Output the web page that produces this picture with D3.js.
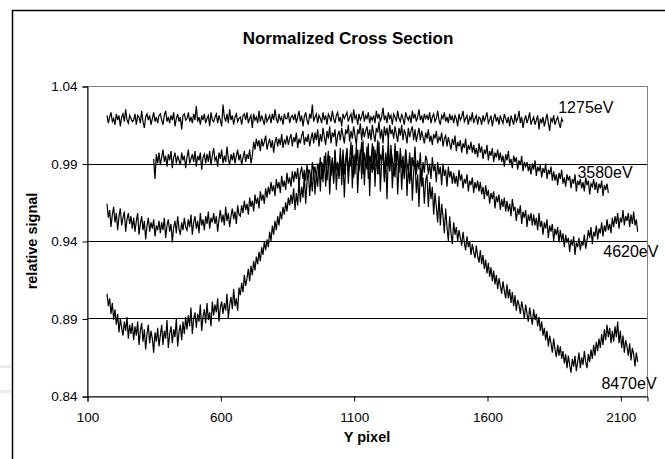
<!DOCTYPE html>
<html>
<head>
<meta charset="utf-8">
<script src="https://cdn.jsdelivr.net/npm/d3@7/dist/d3.min.js"></script>
<style>
  html, body { margin: 0; padding: 0; background: #fff; }
  svg { display: block; }
  text { font-family: "Liberation Sans", Arial, Helvetica, sans-serif; fill: #000; }
</style>
</head>
<body>
<div id="chart"></div>
<script>
// ---------------- DATA ----------------
const chartTitle = "Normalized Cross Section";
const xAxisTitle = "Y pixel";
const yAxisTitle = "relative signal";
const xTicks = [100, 600, 1100, 1600, 2100];
const yTicks = [0.84, 0.89, 0.94, 0.99, 1.04];
const seriesNames = ["1275eV", "3580eV", "4620eV", "8470eV"];
const seriesStartX = [175, 350, 175, 175];   // first Y pixel of each trace
const sampleStep = 5;                       // Y pixel spacing of samples

const v1275 = [
1.021,1.016,1.020,1.023,1.017,1.019,1.015,1.022,1.018,1.021,1.014,1.020,1.022,1.017,1.025,1.018,1.016,1.021,1.019,1.017,
1.018,1.022,1.015,1.021,1.020,1.016,1.024,1.017,1.013,1.020,1.022,1.018,1.021,1.015,1.019,1.023,1.017,1.020,1.016,1.021,
1.022,1.018,1.015,1.021,1.024,1.017,1.020,1.016,1.021,1.018,1.023,1.014,1.019,1.022,1.017,1.020,1.012,1.021,1.022,1.018,
1.019,1.023,1.017,1.020,1.016,1.022,1.018,1.027,1.017,1.020,1.015,1.021,1.018,1.022,1.016,1.019,1.021,1.014,1.023,1.018,
1.017,1.020,1.022,1.016,1.021,1.018,1.014,1.028,1.020,1.017,1.022,1.016,1.025,1.018,1.021,1.015,1.020,1.022,1.017,1.019,
1.020,1.015,1.021,1.022,1.018,1.023,1.016,1.019,1.021,1.013,1.022,1.018,1.020,1.016,1.024,1.017,1.021,1.018,1.015,1.022,
1.017,1.019,1.021,1.016,1.022,1.018,1.025,1.019,1.016,1.022,1.018,1.020,1.015,1.022,1.019,1.019,1.023,1.016,1.020,1.021,
1.018,1.022,1.016,1.020,1.024,1.017,1.021,1.014,1.020,1.023,1.018,1.015,1.022,1.019,1.028,1.017,1.020,1.022,1.016,1.021,
1.019,1.016,1.023,1.018,1.021,1.015,1.022,1.020,1.017,1.024,1.019,1.016,1.021,1.023,1.017,1.020,1.014,1.022,1.019,1.021,
1.023,1.017,1.020,1.022,1.016,1.025,1.019,1.021,1.015,1.022,1.018,1.020,1.024,1.017,1.021,1.019,1.023,1.016,1.020,1.018,
1.021,1.016,1.024,1.019,1.022,1.017,1.020,1.026,1.018,1.021,1.016,1.023,1.019,1.021,1.015,1.022,1.020,1.017,1.024,1.019,
1.017,1.022,1.019,1.015,1.023,1.020,1.018,1.021,1.016,1.024,1.019,1.022,1.017,1.020,1.025,1.018,1.021,1.016,1.022,1.019,
1.021,1.018,1.023,1.016,1.020,1.022,1.017,1.019,1.024,1.018,1.015,1.021,1.019,1.023,1.017,1.020,1.016,1.022,1.018,1.021,
1.016,1.021,1.019,1.014,1.022,1.018,1.020,1.024,1.017,1.019,1.021,1.015,1.020,1.018,1.023,1.016,1.019,1.021,1.015,1.020,
1.019,1.015,1.021,1.017,1.020,1.023,1.016,1.018,1.021,1.014,1.019,1.022,1.017,1.020,1.015,1.021,1.018,1.016,1.022,1.019,
1.016,1.020,1.014,1.021,1.018,1.015,1.022,1.017,1.019,1.024,1.016,1.020,1.013,1.018,1.021,1.016,1.019,1.023,1.015,1.018,
1.020,1.015,1.018,1.021,1.012,1.019,1.016,1.020,1.014,1.018,1.022,1.016,1.011,1.019,1.017,1.021,1.015,1.018,1.020,1.016,
1.013,1.019,1.017
];

const v3580 = [
0.993,0.980,0.996,0.990,0.997,0.989,0.994,0.999,0.991,0.995,0.988,0.996,0.992,0.998,0.987,0.994,0.997,0.990,0.995,0.992,
0.989,0.997,0.992,0.995,0.987,0.994,0.999,0.990,0.993,0.996,0.991,0.998,0.988,0.995,0.992,0.997,0.986,0.994,0.996,0.990,
0.996,0.991,0.998,0.989,0.995,1.000,0.992,0.994,0.988,0.997,0.993,0.999,0.990,0.995,0.991,1.001,0.993,0.989,0.996,0.992,
0.997,0.990,0.995,0.999,0.992,0.996,0.989,0.994,0.998,0.991,0.996,0.993,0.999,0.990,0.995,1.004,0.999,1.006,1.001,1.005,
0.998,1.006,1.001,1.004,1.008,0.999,1.003,1.006,1.000,1.005,0.997,1.004,1.007,1.001,1.006,1.002,1.009,1.000,1.005,1.003,
1.008,1.002,1.006,1.009,1.001,1.007,1.004,1.010,1.000,1.006,1.003,1.008,1.011,1.002,1.007,1.004,1.009,1.001,1.006,1.010,
1.003,1.010,1.005,1.012,1.001,1.009,1.004,1.013,1.007,1.002,1.011,1.006,1.014,1.003,1.010,1.007,1.012,1.001,1.008,1.011,
1.005,1.013,1.008,1.003,1.012,1.009,1.015,1.004,1.011,1.006,1.014,1.008,1.002,1.012,1.009,1.016,1.005,1.013,1.007,1.011,
1.014,1.006,1.012,1.005,1.015,1.009,1.004,1.013,1.010,1.017,1.006,1.012,1.003,1.014,1.008,1.013,1.005,1.015,1.009,1.012,
1.006,1.014,1.009,1.004,1.013,1.008,1.015,1.005,1.012,1.009,1.003,1.013,1.007,1.011,1.014,1.005,1.012,1.004,1.009,1.013,
1.005,1.011,1.007,1.003,1.010,1.006,1.012,1.004,1.008,1.002,1.009,1.006,1.011,1.003,1.007,1.005,1.010,1.001,1.006,1.008,
1.001,1.007,1.003,0.999,1.006,1.002,1.008,0.998,1.004,1.001,1.005,0.997,1.003,1.000,1.006,0.996,1.002,0.999,1.004,0.997,
1.002,0.996,1.000,0.994,1.003,0.997,1.001,0.993,0.999,0.996,1.002,0.992,0.998,0.995,1.000,0.991,0.997,0.994,0.999,0.992,
0.997,0.991,0.995,0.988,0.996,0.992,0.998,0.990,0.993,0.987,0.995,0.991,0.994,0.986,0.992,0.989,0.995,0.985,0.991,0.988,
0.991,0.985,0.989,0.983,0.990,0.986,0.992,0.982,0.988,0.985,0.989,0.981,0.987,0.984,0.990,0.980,0.986,0.983,0.988,0.979,
0.985,0.979,0.983,0.976,0.984,0.980,0.986,0.977,0.981,0.975,0.983,0.979,0.982,0.974,0.980,0.977,0.983,0.972,0.979,0.976,
0.980,0.974,0.978,0.972,0.981,0.976,0.979,0.970,0.977,0.975,0.980,0.973,0.978,0.971,0.977,0.974,0.979,0.969,0.976,0.973,
0.977,0.971
];

const v4620 = [
0.964,0.955,0.960,0.949,0.957,0.962,0.952,0.958,0.947,0.956,0.961,0.950,0.955,0.959,0.946,0.954,0.958,0.951,0.956,0.948,
0.955,0.946,0.953,0.958,0.944,0.951,0.956,0.947,0.953,0.941,0.950,0.955,0.946,0.952,0.948,0.954,0.943,0.950,0.947,0.953,
0.945,0.952,0.947,0.955,0.942,0.950,0.954,0.946,0.951,0.939,0.949,0.953,0.945,0.956,0.948,0.944,0.952,0.947,0.955,0.949,
0.947,0.954,0.949,0.957,0.944,0.952,0.956,0.948,0.953,0.945,0.958,0.950,0.954,0.947,0.956,0.951,0.959,0.948,0.955,0.952,
0.958,0.951,0.956,0.946,0.954,0.960,0.952,0.957,0.950,0.962,0.953,0.958,0.949,0.956,0.961,0.954,0.959,0.951,0.963,0.957,
0.956,0.963,0.958,0.966,0.960,0.964,0.957,0.968,0.962,0.966,0.959,0.970,0.964,0.968,0.961,0.972,0.966,0.970,0.964,0.974,
0.968,0.975,0.970,0.978,0.972,0.976,0.969,0.980,0.974,0.978,0.971,0.982,0.975,0.979,0.973,0.984,0.977,0.981,0.975,0.985,
0.978,0.985,0.980,0.987,0.976,0.984,0.988,0.980,0.986,0.979,0.989,0.983,0.986,0.978,0.991,0.984,0.988,0.981,0.990,0.985,
0.994,0.980,0.990,0.985,0.997,0.979,0.988,0.995,0.982,0.992,0.977,0.998,0.986,0.991,0.980,0.996,0.984,0.999,0.983,0.993,
1.000,0.984,0.994,0.988,1.002,0.981,0.996,0.990,0.999,0.985,0.993,1.004,0.983,0.997,0.989,1.001,0.980,0.995,0.991,1.003,
0.986,0.999,0.990,1.005,0.983,0.996,0.992,1.002,0.981,0.997,0.988,1.006,0.985,0.999,0.993,0.982,1.003,0.989,0.998,0.984,
1.000,0.987,0.995,0.982,0.999,0.990,0.985,0.997,0.979,0.994,0.988,1.001,0.983,0.992,0.986,0.997,0.978,0.991,0.984,0.995,
0.992,0.983,0.990,0.980,0.994,0.985,0.989,0.978,0.991,0.983,0.988,0.976,0.990,0.982,0.986,0.975,0.988,0.981,0.985,0.977,
0.984,0.977,0.982,0.975,0.986,0.979,0.983,0.974,0.980,0.977,0.983,0.972,0.979,0.976,0.981,0.971,0.978,0.974,0.979,0.972,
0.978,0.970,0.975,0.967,0.976,0.969,0.973,0.964,0.971,0.967,0.972,0.961,0.969,0.965,0.970,0.960,0.967,0.962,0.968,0.959,
0.966,0.959,0.964,0.956,0.967,0.960,0.962,0.953,0.961,0.957,0.963,0.951,0.959,0.955,0.960,0.949,0.957,0.953,0.958,0.950,
0.957,0.950,0.955,0.947,0.958,0.949,0.953,0.944,0.952,0.948,0.954,0.942,0.950,0.946,0.951,0.940,0.948,0.944,0.949,0.939,
0.947,0.940,0.945,0.936,0.944,0.939,0.942,0.933,0.941,0.937,0.943,0.931,0.939,0.936,0.942,0.934,0.940,0.937,0.944,0.935,
0.940,0.947,0.942,0.949,0.938,0.946,0.943,0.950,0.941,0.948,0.945,0.952,0.943,0.950,0.946,0.954,0.947,0.951,0.945,0.955,
0.949,0.956,0.951,0.958,0.948,0.955,0.952,0.960,0.950,0.956,0.953,0.958,0.949,0.957,0.951,0.959,0.950,0.954,0.946
];

const v8470 = [
0.906,0.898,0.903,0.893,0.900,0.889,0.896,0.886,0.893,0.881,0.890,0.884,0.879,0.888,0.882,0.891,0.877,0.886,0.880,0.887,
0.876,0.885,0.879,0.888,0.873,0.882,0.887,0.875,0.883,0.870,0.880,0.886,0.874,0.882,0.877,0.868,0.881,0.875,0.884,0.872,
0.879,0.886,0.873,0.882,0.877,0.889,0.871,0.880,0.885,0.874,0.883,0.878,0.890,0.872,0.881,0.886,0.876,0.888,0.880,0.891,
0.883,0.892,0.885,0.897,0.880,0.890,0.894,0.884,0.893,0.888,0.899,0.882,0.891,0.896,0.887,0.900,0.889,0.894,0.885,0.901,
0.892,0.899,0.894,0.903,0.888,0.897,0.901,0.893,0.900,0.895,0.906,0.890,0.899,0.904,0.896,0.909,0.898,0.903,0.895,0.910,
0.905,0.913,0.907,0.918,0.911,0.916,0.922,0.914,0.924,0.918,0.927,0.921,0.930,0.925,0.933,0.927,0.936,0.931,0.940,0.934,
0.941,0.936,0.946,0.940,0.950,0.944,0.953,0.947,0.956,0.950,0.959,0.954,0.962,0.957,0.965,0.959,0.968,0.963,0.970,0.964,
0.974,0.960,0.971,0.963,0.979,0.965,0.975,0.968,0.983,0.964,0.978,0.986,0.969,0.981,0.972,0.988,0.970,0.984,0.975,0.990,
0.972,0.991,0.978,0.995,0.975,0.989,0.998,0.970,0.987,0.994,0.979,0.999,0.973,0.990,0.982,1.000,0.976,0.993,0.968,0.989,
0.998,0.977,0.992,1.004,0.974,0.995,0.983,1.002,0.971,0.990,0.999,0.980,1.005,0.976,0.993,0.986,1.003,0.969,0.994,0.984,
1.001,0.975,0.996,0.983,1.004,0.972,0.991,0.999,0.978,0.994,0.967,0.997,0.985,1.002,0.974,0.990,0.981,0.998,0.970,0.988,
0.996,0.973,0.991,0.980,0.999,0.969,0.988,0.977,0.994,0.966,0.985,0.992,0.971,0.983,0.962,0.987,0.975,0.981,0.964,0.979,
0.983,0.962,0.978,0.967,0.975,0.957,0.971,0.962,0.952,0.969,0.950,0.964,0.956,0.945,0.961,0.949,0.940,0.956,0.945,0.938,
0.952,0.944,0.949,0.940,0.947,0.942,0.937,0.946,0.939,0.934,0.943,0.936,0.940,0.931,0.938,0.933,0.929,0.937,0.930,0.926,
0.934,0.925,0.931,0.922,0.928,0.919,0.926,0.917,0.923,0.914,0.921,0.912,0.918,0.909,0.916,0.911,0.906,0.914,0.908,0.903,
0.912,0.903,0.909,0.900,0.907,0.898,0.905,0.895,0.902,0.899,0.893,0.901,0.896,0.890,0.899,0.893,0.888,0.897,0.891,0.886,
0.896,0.889,0.893,0.885,0.891,0.882,0.888,0.879,0.884,0.876,0.882,0.872,0.879,0.874,0.868,0.877,0.870,0.865,0.873,0.866,
0.872,0.864,0.869,0.861,0.867,0.858,0.866,0.860,0.855,0.864,0.859,0.866,0.856,0.862,0.868,0.858,0.865,0.860,0.869,0.862,
0.858,0.867,0.862,0.870,0.864,0.873,0.866,0.875,0.869,0.877,0.871,0.880,0.873,0.883,0.876,0.886,0.878,0.884,0.874,0.882,
0.875,0.885,0.878,0.888,0.874,0.882,0.871,0.879,0.868,0.876,0.872,0.866,0.874,0.863,0.871,0.867,0.859,0.868,0.862
];

const seriesValues = [v1275, v3580, v4620, v8470];
// label anchors in data coordinates (Y pixel, relative signal)
const labelAnchorX = [1867, 1939, 2036, 2029];
const labelAnchorY = [1.0226, 0.9806, 0.9297, 0.8445];

// ---------------- LAYOUT ----------------
const W = 665, H = 459;
const plot = { left: 87, right: 647, top: 86, bottom: 396 };

const svg = d3.select("#chart").append("svg")
  .attr("width", W).attr("height", H);

svg.append("rect").attr("width", W).attr("height", H).attr("fill", "#fff");

// faint artifacts at lower left
svg.append("rect").attr("x", 0).attr("y", 365).attr("width", 11).attr("height", 3).attr("fill", "#ebebeb");
svg.append("rect").attr("x", 0).attr("y", 390).attr("width", 11).attr("height", 3).attr("fill", "#ebebeb");

// chart-area border (extends beyond the window on right and bottom)
svg.append("rect")
  .attr("x", 12.5).attr("y", 10.5)
  .attr("width", 720).attr("height", 520)
  .attr("fill", "none").attr("stroke", "#000").attr("stroke-width", 1.5);

const x = d3.scaleLinear().domain([100, 2200]).range([plot.left, plot.right]);
const y = d3.scaleLinear().domain([0.84, 1.04]).range([plot.bottom, plot.top]);

// plot area border
svg.append("rect")
  .attr("x", plot.left + 0.5).attr("y", plot.top + 0.5)
  .attr("width", plot.right - plot.left).attr("height", plot.bottom - plot.top)
  .attr("fill", "none").attr("stroke", "#808080").attr("stroke-width", 1);

// gridlines
svg.append("g").selectAll("line")
  .data(yTicks.filter(t => t > 0.84 && t < 1.04))
  .join("line")
  .attr("x1", plot.left).attr("x2", plot.right)
  .attr("y1", d => Math.round(y(d)) + 0.5).attr("y2", d => Math.round(y(d)) + 0.5)
  .attr("stroke", "#000").attr("stroke-width", 1);

// axes
const yAxis = d3.axisLeft(y).tickValues(yTicks).tickSize(5).tickPadding(5)
  .tickFormat(d3.format(".2f"));
const gy = svg.append("g").attr("transform", `translate(${plot.left + 0.5},0.5)`).call(yAxis);
gy.select(".domain").attr("stroke", "#000");
gy.selectAll(".tick line").attr("stroke", "#000");
gy.selectAll(".tick text").attr("font-size", "13.5px").attr("font-family", "Liberation Sans, Arial, sans-serif").attr("fill", "#000");

const xAxis = d3.axisBottom(x).tickValues(xTicks).tickSize(5).tickPadding(11)
  .tickFormat(d3.format("d"));
const gx = svg.append("g").attr("transform", `translate(0.5,${plot.bottom + 0.5})`).call(xAxis);
gx.select(".domain").attr("stroke", "#000");
gx.selectAll(".tick line").attr("stroke", "#000");
gx.selectAll(".tick text").attr("font-size", "13.5px").attr("font-family", "Liberation Sans, Arial, sans-serif").attr("fill", "#000");

// series lines
const line = d3.line().x(d => x(d[0])).y(d => y(d[1]));
svg.append("clipPath").attr("id", "clip").append("rect")
  .attr("x", plot.left).attr("y", plot.top)
  .attr("width", plot.right - plot.left).attr("height", plot.bottom - plot.top);

const gLines = svg.append("g").attr("clip-path", "url(#clip)");
seriesValues.forEach((vals, si) => {
  const pts = vals.map((v, i) => [seriesStartX[si] + i * sampleStep, v]);
  gLines.append("path")
    .datum(pts)
    .attr("d", line)
    .attr("fill", "none")
    .attr("stroke", "#000")
    .attr("stroke-width", 1.2)
    .attr("stroke-linejoin", "miter");
});

// series labels
seriesNames.forEach((n, i) => {
  svg.append("text")
    .attr("x", x(labelAnchorX[i])).attr("y", y(labelAnchorY[i]))
    .attr("font-size", "16px")
    .text(n);
});

// titles
svg.append("text")
  .attr("x", 348).attr("y", 44)
  .attr("text-anchor", "middle")
  .attr("font-size", "17px").attr("font-weight", "bold")
  .text(chartTitle);

svg.append("text")
  .attr("x", (plot.left + plot.right) / 2).attr("y", 442)
  .attr("text-anchor", "middle")
  .attr("font-size", "14.5px").attr("font-weight", "bold")
  .text(xAxisTitle);

svg.append("text")
  .attr("transform", `translate(37,${(plot.top + plot.bottom) / 2}) rotate(-90)`)
  .attr("text-anchor", "middle")
  .attr("font-size", "14.5px").attr("font-weight", "bold")
  .text(yAxisTitle);
</script>
</body>
</html>
